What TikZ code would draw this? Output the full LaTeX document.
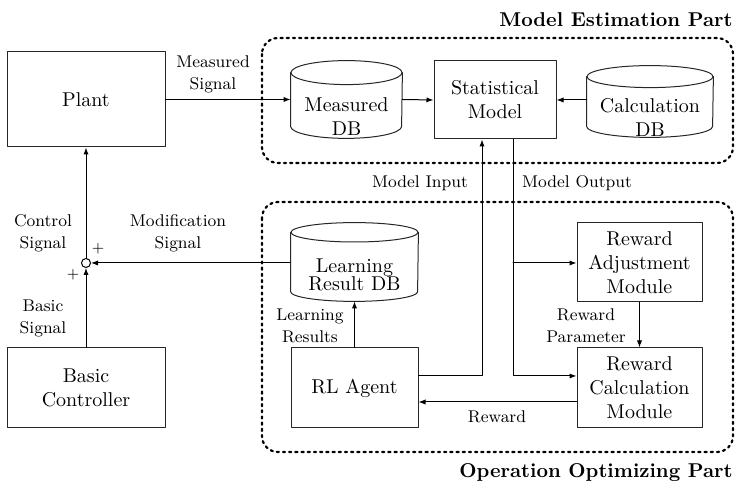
\documentclass[tikz,border=0pt]{standalone}
\usetikzlibrary{calc,arrows.meta}

% 円柱（データベース）：名前, x半径, y半径
\newcommand{\dbcyl}[3]{%
  \draw[dbline] ($(#1.north west)+(0,-#3)$) -- ($(#1.south west)+(0,#3)$)
    arc[start angle=180,end angle=360,x radius=#2,y radius=#3]
    -- ($(#1.north east)+(0,-#3)$);
  \draw[dbline] ($(#1.north)+(0,-#3)$) ellipse[x radius=#2,y radius=#3];}

\begin{document}
\begin{tikzpicture}[x=0.5pt,y=-0.5pt,
  line cap=round,
  line join=round,
  every node/.style={font=\fontsize{10}{12}\selectfont},
  blk/.style={draw=black!85,line width=0.5pt,inner sep=0pt,align=center},
  db/.style={inner sep=0pt},
  dbline/.style={draw=black!85,line width=0.5pt},
  dbtxt/.style={align=center,inner sep=0pt},
  lbl/.style={font=\fontsize{8.5}{11}\selectfont,align=center,inner sep=0pt},
  arr/.style={draw=black,line width=0.5pt,-{Latex[length=3.5pt,width=2.6pt]}},
  part/.style={line width=1.1pt,dotted,rounded corners=8pt},
  ttl/.style={font=\fontsize{10}{11}\selectfont\bfseries,anchor=east,inner sep=0pt}]

  \useasboundingbox (0,0) rectangle (735,490);

  % 領域（点線）
  \draw[part] (262,38) rectangle (733,163);
  \draw[part] (262,202) rectangle (733,452);
  \node[ttl] (tme) at (733,20) {Model Estimation Part};
  \node[ttl] (too) at (733,473) {Operation Optimizing Part};

  % ブロック
  \node[blk,minimum width=79pt,minimum height=47.5pt] (plant) at (86,99.5) {Plant};
  \node[blk,minimum width=79pt,minimum height=40pt] (basic) at (86,388) {Basic\\Controller};
  \node[blk,minimum width=61pt,minimum height=39pt] (stat) at (495,100) {Statistical\\Model};
  \node[blk,minimum width=63.5pt,minimum height=40pt] (agent) at (354.5,388) {RL Agent};
  \node[blk,minimum width=62.5pt,minimum height=39.5pt] (radj) at (639.5,262.5) {Reward\\Adjustment\\Module};
  \node[blk,minimum width=62.5pt,minimum height=40pt] (rcalc) at (639.5,388) {Reward\\Calculation\\Module};

  % データベース（円柱と文字）
  \node[db,minimum width=55.5pt,minimum height=38.5pt] (mdb) at (346.5,99.5) {};
  \node[db,minimum width=63pt,minimum height=35.5pt] (cdb) at (650,101.5) {};
  \node[db,minimum width=63.5pt,minimum height=39pt] (ldb) at (354.5,262) {};
  \dbcyl{mdb}{27.75pt}{6pt}
  \dbcyl{cdb}{31.5pt}{5.5pt}
  \dbcyl{ldb}{31.75pt}{4.85pt}
  \node[dbtxt] (mdbt) at (346.5,117) {Measured\\DB};
  \node[dbtxt] (cdbt) at (650,117.5) {Calculation\\DB};
  \node[dbtxt,font=\fontsize{10}{9}\selectfont] (ldbt) at (354.5,274.5) {Learning\\Result DB};

  % 加算点
  \node[draw=black,line width=0.5pt,circle,minimum size=4.5pt,inner sep=0pt] (sum) at (86,263) {};

  % 折れ点
  \coordinate (mi) at (482,376);
  \coordinate (mo) at (513,376);
  \coordinate (mob) at (513,263);
  \coordinate (rw) at (497,402);

  % 矢印
  \draw[arr] (plant.east) -- (mdb.west);
  \draw[arr] (mdb.east) -- (stat.west);
  \draw[arr] (cdb.west |- stat.east) -- (stat.east);
  \draw[arr] (basic.north) -- (sum.south);
  \draw[arr] (sum.north) -- (plant.south);
  \draw[arr] (ldb.west |- sum) -- (sum.east);
  \draw[arr] (agent.north) -- (ldb.south);
  \draw[arr] (agent.east |- mi) -- (mi) -- (stat.south -| mi);
  \draw[arr] (stat.south -| mo) -- (mo) -- (rcalc.west |- mo);
  \draw[arr] (mob) -- (radj.west |- mob);
  \draw[arr] (radj.south) -- (rcalc.north);
  \draw[arr] (rcalc.west |- rw) -- (agent.east |- rw);

  % ラベル
  \node[lbl] (lms) at (213,74) {Measured\\Signal};
  \node[lbl] (lmi) at (420,183) {Model Input};
  \node[lbl] (lmo) at (577,183) {Model Output};
  \node[lbl] (lmod) at (178,233) {Modification\\Signal};
  \node[lbl] (lcs) at (43,233) {Control\\Signal};
  \node[lbl] (lbs) at (43,318) {Basic\\Signal};
  \node[lbl] (llr) at (310,326) {Learning\\Results};
  \node[lbl] (lrp) at (586,326) {Reward\\Parameter};
  \node[lbl] (lrw) at (497,417) {Reward};
  \node[lbl,font=\fontsize{7.5}{9}\selectfont] (pl1) at (98,249) {+};
  \node[lbl,font=\fontsize{7.5}{9}\selectfont] (pl2) at (73,275) {+};

\end{tikzpicture}
\end{document}
